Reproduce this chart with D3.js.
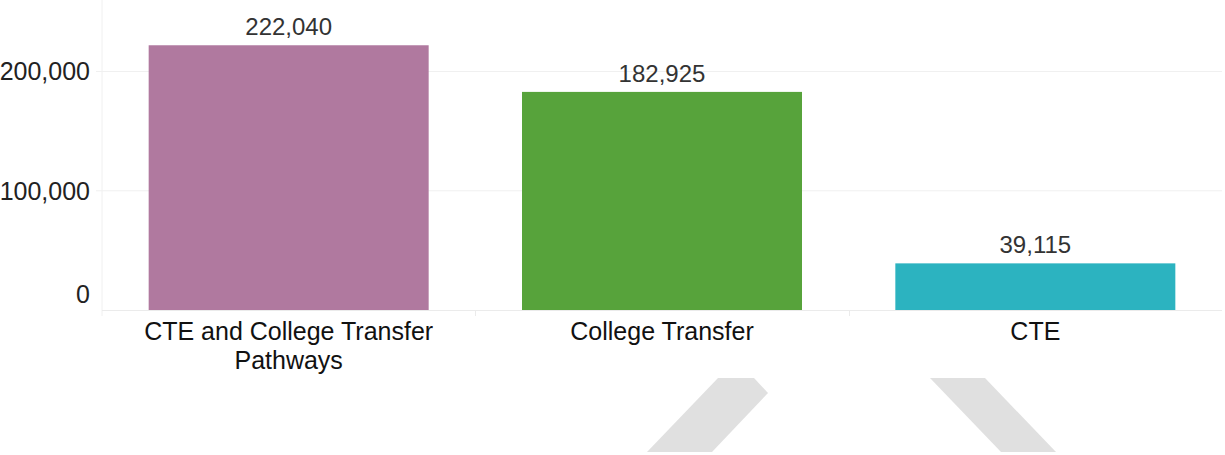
<!DOCTYPE html>
<html>
<head>
<meta charset="utf-8">
<script src="https://cdn.jsdelivr.net/npm/d3@7"></script>
<style>
    body { margin: 0; background: #fff; }
    svg { display: block; font-family: "Liberation Sans", Arial, sans-serif; }
</style>
</head>
<body>
<svg id="chart" width="1225" height="455"></svg>
<script>
// chart data
var categories = ["CTE and College Transfer Pathways", "College Transfer", "CTE"];
var labelLines = [["CTE and College Transfer", "Pathways"], ["College Transfer"], ["CTE"]];
var values = [222040, 182925, 39115];
var colors = ["#b0799f", "#57a33b", "#2cb3c0"];
var yTicks = [0, 100000, 200000];

var svg = d3.select("#chart");

var left = 102, right = 1222, bottom = 310;

var x = d3.scaleBand()
    .domain(categories)
    .range([left, right])
    .paddingInner(0.25)
    .paddingOuter(0.125);

var y = d3.scaleLinear()
    .domain([0, 260000])
    .range([bottom, 0]);

// grid lines
svg.append("g")
    .selectAll("line")
    .data(yTicks.filter(function(d) { return d > 0; }))
    .enter().append("line")
    .attr("x1", left - 6)
    .attr("x2", right)
    .attr("y1", function(d) { return y(d); })
    .attr("y2", function(d) { return y(d); })
    .attr("stroke", "#f0f0f0")
    .attr("stroke-width", 1);

// left frame line
svg.append("line")
    .attr("x1", left).attr("x2", left)
    .attr("y1", 0).attr("y2", bottom + 6)
    .attr("stroke", "#f0f0f0");

// y tick labels
svg.append("g")
    .selectAll("text")
    .data(yTicks)
    .enter().append("text")
    .attr("x", 90)
    .attr("y", function(d) { return d === 0 ? y(d) - 16 : y(d); })
    .attr("dy", "0.35em")
    .attr("text-anchor", "end")
    .attr("font-size", 25)
    .attr("fill", "#222")
    .text(function(d) { return d3.format(",")(d); });

// bars
svg.append("g")
    .selectAll("rect")
    .data(values)
    .enter().append("rect")
    .attr("x", function(d, i) { return x(categories[i]); })
    .attr("y", function(d) { return y(d); })
    .attr("width", x.bandwidth())
    .attr("height", function(d) { return y(0) - y(d); })
    .attr("fill", function(d, i) { return colors[i]; });

// x axis line and ticks
svg.append("line")
    .attr("x1", left).attr("x2", right)
    .attr("y1", bottom + 0.5).attr("y2", bottom + 0.5)
    .attr("stroke", "#ebebeb");

var bounds = categories.slice(1).map(function(c) { return x(c) - x.step() * x.paddingInner() / 2; });
svg.append("g")
    .selectAll("line")
    .data(bounds)
    .enter().append("line")
    .attr("x1", function(d) { return Math.round(d) + 0.5; })
    .attr("x2", function(d) { return Math.round(d) + 0.5; })
    .attr("y1", bottom)
    .attr("y2", bottom + 6)
    .attr("stroke", "#ebebeb");

// value labels
svg.append("g")
    .selectAll("text")
    .data(values)
    .enter().append("text")
    .attr("x", function(d, i) { return x(categories[i]) + x.bandwidth() / 2; })
    .attr("y", function(d) { return y(d) - 10; })
    .attr("text-anchor", "middle")
    .attr("font-size", 24)
    .attr("fill", "#333")
    .text(function(d) { return d3.format(",")(d); });

// category labels
var cat = svg.append("g")
    .selectAll("text")
    .data(categories)
    .enter().append("text")
    .attr("x", function(d) { return x(d) + x.bandwidth() / 2; })
    .attr("y", 340)
    .attr("text-anchor", "middle")
    .attr("font-size", 25)
    .attr("fill", "#111");

cat.selectAll("tspan")
    .data(function(d, i) { return labelLines[i]; })
    .enter().append("tspan")
    .attr("x", function() { return d3.select(this.parentNode).attr("x"); })
    .attr("dy", function(d, i) { return i === 0 ? 0 : 29; })
    .text(function(d) { return d; });

// grey shapes at the bottom
var shapes = [
    [[718, 378], [754, 378], [768, 393], [712, 452], [647, 452]],
    [[930, 378], [985, 378], [1056, 452], [1001, 452]]
];
svg.append("g")
    .selectAll("path")
    .data(shapes)
    .enter().append("path")
    .attr("d", function(d) { return d3.line()(d) + "Z"; })
    .attr("fill", "#e0e0e0");
</script>
</body>
</html>
